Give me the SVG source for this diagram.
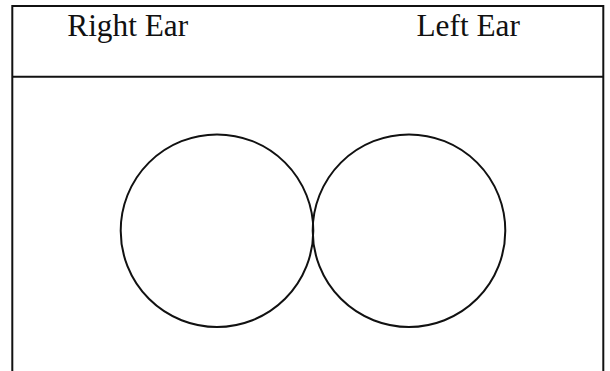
<svg xmlns="http://www.w3.org/2000/svg" width="610" height="371" viewBox="0 0 610 371">
<style>
.ln{stroke:#111;stroke-width:2;fill:none}
.lbl{font-family:"Liberation Serif","Times New Roman",serif;font-size:31.3px;fill:#111}
</style>
<rect width="610" height="371" fill="#fff"/>
<g id="frame">
<path class="ln" d="M12.3,371 V6 H603.3 V371"/>
<path class="ln" d="M12.3,76.7 H603.3"/>
</g>
<g id="labels">
<text class="lbl" x="67.3" y="36">Right Ear</text>
<text class="lbl" x="416.5" y="36">Left Ear</text>
</g>
<g id="right-ear">
<circle class="ln" cx="217" cy="230.7" r="96.3"/>
</g>
<g id="left-ear">
<circle class="ln" cx="409" cy="230.7" r="96.3"/>
</g>
<g id="connectors"/>
</svg>
